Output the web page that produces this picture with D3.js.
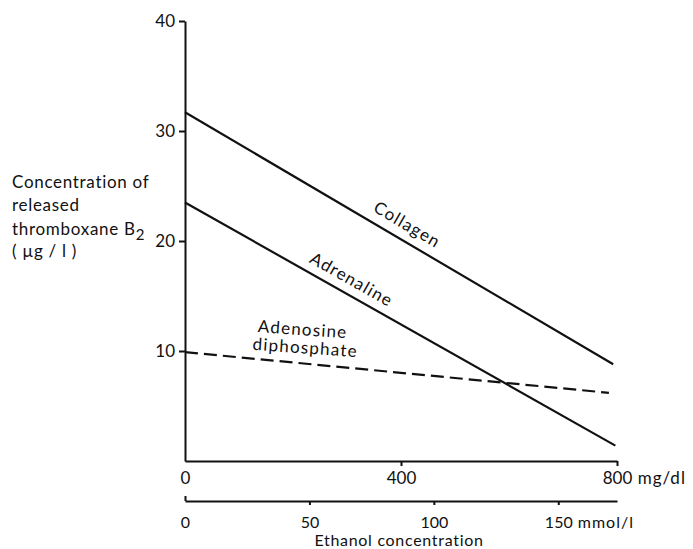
<!DOCTYPE html>
<html>
<head>
<meta charset="utf-8">
<script src="https://cdn.jsdelivr.net/npm/d3@7"></script>
<style>
body{margin:0;background:#fff;}
text{font-family:Lato,"DejaVu Sans",sans-serif;fill:#111;}
.axis path,.axis line{stroke:#111;stroke-width:2;}
.word{letter-spacing:0.7px;}
.linelabel{letter-spacing:1.2px;}
</style>
</head>
<body>
<div id="chart"></div>
<script>
var width = 693, height = 549;

// ethanol dose in mg/dl, thromboxane in ug/l
var series = ['Collagen', 'Adrenaline', 'Adenosine diphosphate'];
var startDoses = [0, 0, 0];
var endDoses = [793, 797, 785];
var startValues = [31.7, 23.5, 9.9];
var endValues = [8.8, 1.4, 6.2];

var yTicks = [10, 20, 30, 40];
var mgTicks = [0, 400, 800];
var mmolTicks = [0, 50, 100, 150];
var yLabel = ['Concentration of', 'released', 'thromboxane B', '( \u00b5g / l )'];

var svg = d3.select('#chart').append('svg')
    .attr('width', width)
    .attr('height', height);

var x = d3.scaleLinear().domain([0, 800]).range([185, 617]);
// 800 mg/dl of ethanol = 173.6 mmol/l
var xMmol = d3.scaleLinear().domain([0, 173.6]).range([185, 617]);
var y = d3.scaleLinear().domain([0, 40]).range([461, 21]);

// y axis
var yAxis = svg.append('g')
    .attr('class', 'axis')
    .attr('transform', 'translate(' + x(0) + ',0)')
    .call(d3.axisLeft(y).tickValues(yTicks).tickSize(6).tickSizeOuter(0).tickPadding(4));
yAxis.selectAll('text').style('font-size', '17px').style('font-family', 'Lato');

// mg/dl axis
var mgAxis = svg.append('g')
    .attr('class', 'axis')
    .attr('transform', 'translate(0,' + y(0) + ')')
    .call(d3.axisBottom(x).tickValues(mgTicks).tickSize(5).tickSizeOuter(0));
mgAxis.selectAll('text').attr('y', 17).attr('dy', '0.35em')
    .style('font-size', '17px').style('font-family', 'Lato');
mgAxis.selectAll('.tick line').filter(function(d){ return d === 0; }).remove();

// mmol/l axis
var mmolAxis = svg.append('g')
    .attr('class', 'axis')
    .attr('transform', 'translate(0,501)')
    .call(d3.axisBottom(xMmol).tickValues(mmolTicks).tickSize(4).tickSizeOuter(0));
mmolAxis.selectAll('text').attr('y', 21).attr('dy', '0.35em')
    .style('font-size', '16px').style('font-family', 'Lato');
mmolAxis.selectAll('.tick line').filter(function(d){ return d === 0; }).attr('y2', -5);

// unit after the last tick label
function addUnit(axisG, value, unit) {
    var t = axisG.selectAll('.tick').filter(function(d){ return d === value; }).select('text');
    var w = t.node().getComputedTextLength();
    t.attr('text-anchor', 'start').attr('x', -w / 2);
    t.append('tspan').style('letter-spacing', '1px').text(' ' + unit);
}
addUnit(mgAxis, 800, 'mg/dl');
addUnit(mmolAxis, 150, 'mmol/l');

svg.append('text')
    .attr('class', 'word')
    .attr('x', 399)
    .attr('y', 546)
    .attr('text-anchor', 'middle')
    .style('font-size', '16px')
    .text('Ethanol concentration');

// y label
var yl = svg.append('g').selectAll('text')
    .data(yLabel)
    .enter().append('text')
    .attr('class', 'word')
    .attr('x', 12)
    .attr('y', function(d, i){ return [182, 205, 229, 251][i]; })
    .attr('dy', '0.35em')
    .style('font-size', '17px')
    .text(function(d){ return d; });
yl.filter(function(d, i){ return i === 2; })
    .append('tspan').attr('dy', 5).style('font-size', '15px').text('2');

// lines
var lines = series.map(function(s, i) {
    return {name: s,
        p0: [x(startDoses[i]), y(startValues[i])],
        p1: [x(endDoses[i]), y(endValues[i])]};
});

svg.selectAll('.line')
    .data(lines)
    .enter().append('line')
    .attr('class', 'line')
    .attr('x1', function(d){ return d.p0[0]; })
    .attr('y1', function(d){ return d.p0[1]; })
    .attr('x2', function(d){ return d.p1[0]; })
    .attr('y2', function(d){ return d.p1[1]; })
    .style('stroke', '#111')
    .style('stroke-width', 2.2)
    .style('stroke-dasharray', function(d, i){ return i === 2 ? '13,6' : null; });

// labels set along the lines: [fraction along line, offset above line, angle]
var labelPlaces = [
    [[0.5, 16, null]],
    [[0.37, 15, null]],
    [[0.27, 34, 4], [0.28, 16, 4]]
];
var labelText = [['Collagen'], ['Adrenaline'], ['Adenosine', 'diphosphate']];

lines.forEach(function(l, i) {
    var dx = l.p1[0] - l.p0[0], dy = l.p1[1] - l.p0[1];
    var len = Math.sqrt(dx * dx + dy * dy);
    var ang = Math.atan2(dy, dx) * 180 / Math.PI;
    labelPlaces[i].forEach(function(p, j) {
        var cx = l.p0[0] + dx * p[0] + dy / len * p[1];
        var cy = l.p0[1] + dy * p[0] - dx / len * p[1];
        var a = p[2] === null ? ang : p[2];
        svg.append('text')
            .attr('class', 'linelabel')
            .attr('transform', 'translate(' + cx + ',' + cy + ') rotate(' + a + ')')
            .attr('text-anchor', 'middle')
            .attr('dy', '0.35em')
            .style('font-size', '17px')
            .text(labelText[i][j]);
    });
});
</script>
</body>
</html>
